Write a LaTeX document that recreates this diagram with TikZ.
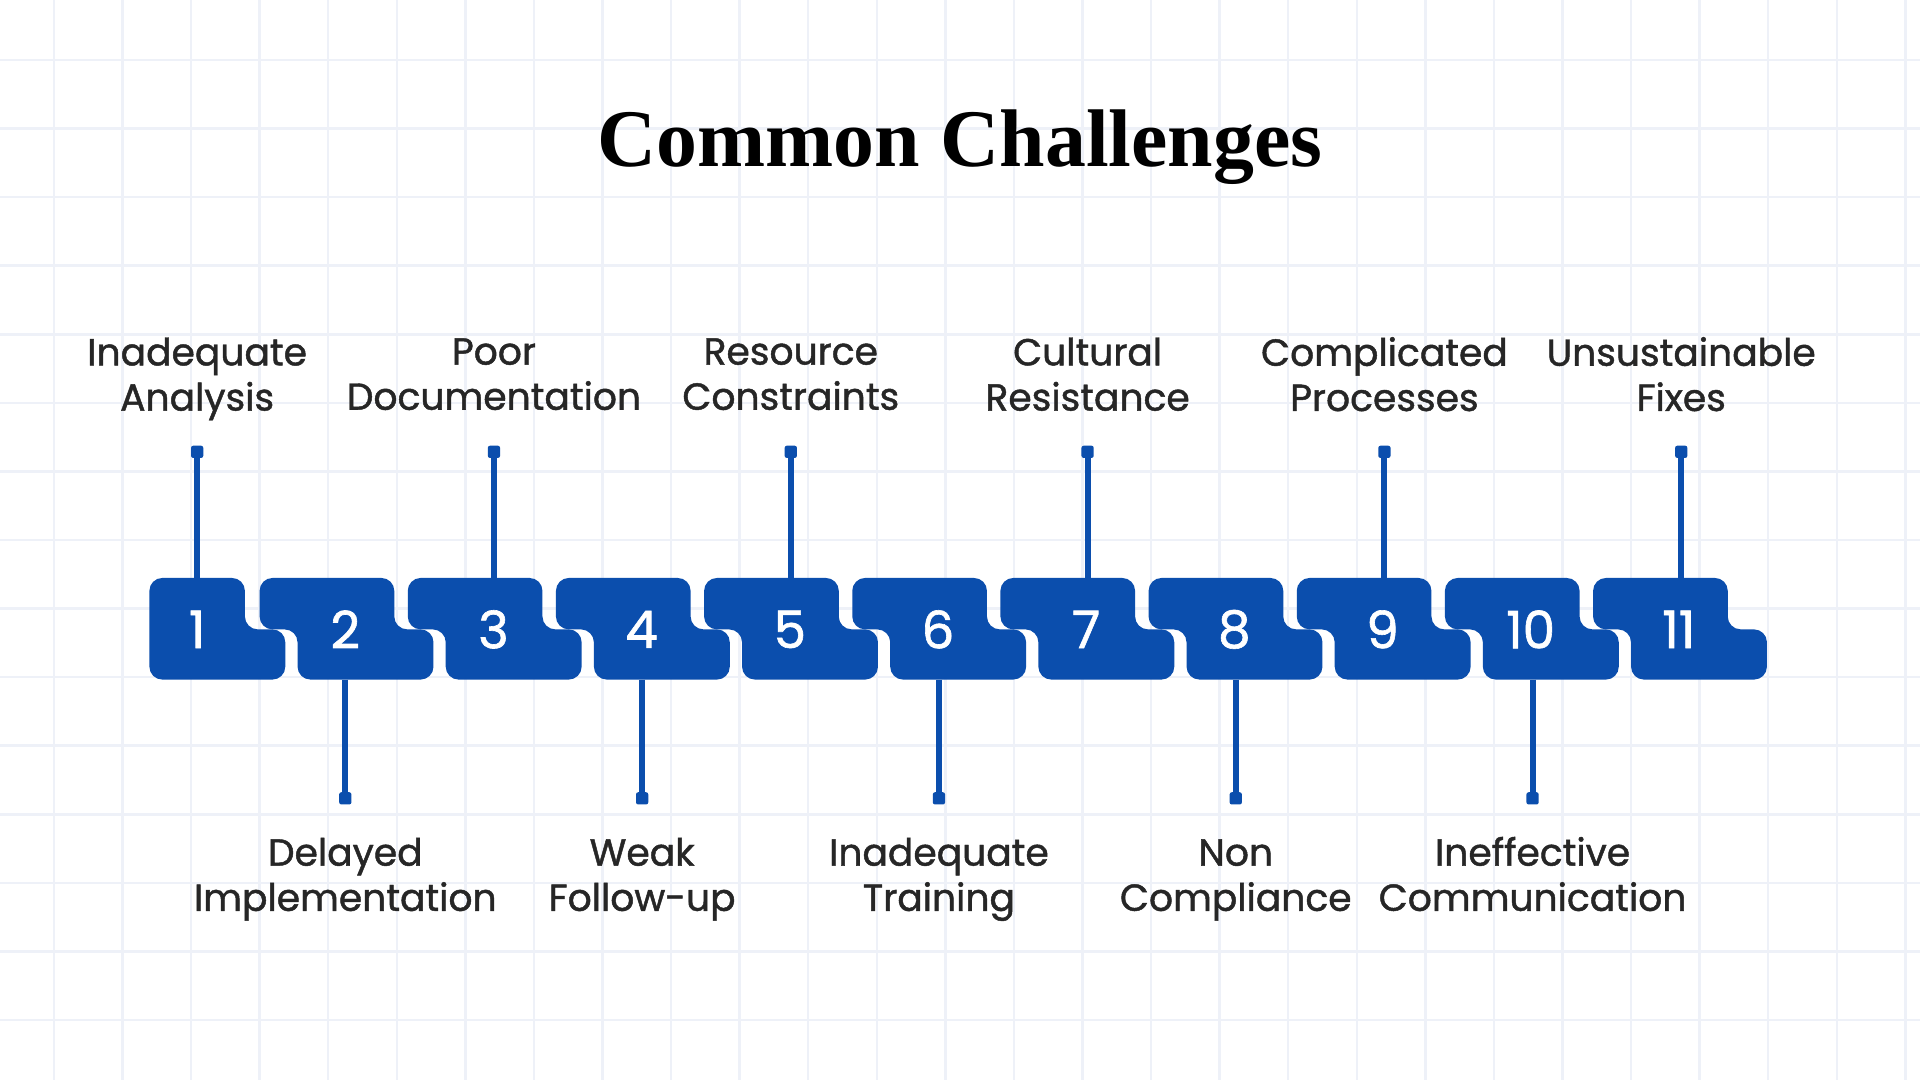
\documentclass[tikz,border=0pt]{standalone}
\usepackage{fontspec}
\setmainfont{Poppins}
\newfontfamily\titlefont{Liberation Serif}
\newfontfamily\labelfont[BoldFont=Poppins, BoldFeatures={FakeBold=1.2}]{Poppins}
\definecolor{blockblue}{HTML}{0B4EAD}
\definecolor{gridgray}{HTML}{EEF1F8}
\begin{document}
\begin{tikzpicture}[x=0.2mm,y=-0.2mm]
  \tikzset{
    block/.style={fill=blockblue, rounded corners=6},
    num/.style={text=white, font=\labelfont\bfseries\fontsize{24}{24}\selectfont},
    label/.style={align=center, font=\labelfont\bfseries\fontsize{17.5}{21}\selectfont, text=black!85, anchor=center},
    stem/.style={draw=blockblue, line width=1mm},
    marker/.style={fill=blockblue, minimum size=2mm, inner sep=0pt, rounded corners=1}
  }

  % Background and grid
  \useasboundingbox (0,0) rectangle (1568,882);
  \fill[white] (0,0) rectangle (1568,882);
  \foreach \gx in {0,...,27} \draw[gridgray, line width=0.4mm] ({44+56*\gx},0) -- ({44+56*\gx},882);
  \foreach \gy in {0,...,15} \draw[gridgray, line width=0.4mm] (0,{49+56*\gy}) -- (1568,{49+56*\gy});

  % Title
  \node (title) at (784,120) {\titlefont\fontsize{38}{38}\selectfont\bfseries Common Challenges};

  % First block
  \fill[block] (122,472) -- (200,472) -- (200,514) -- (233,514) -- (233,555) -- (122,555) -- cycle;
  \node[num] (n1) at (161,514) {1};

  % Remaining blocks
  \foreach \i in {2,...,11} {
    \pgfmathsetmacro{\lt}{212+121*(\i-2)}
    \fill[block] (\lt,472) -- (\lt+110,472) -- (\lt+110,514) -- (\lt+142,514)
      -- (\lt+142,555) -- (\lt+31,555) -- (\lt+31,514) -- (\lt,514) -- cycle;
    \node[num] (n\i) at (\lt+70,514) {\i};
  }

  % Top labels
  \foreach \i/\txt in {1/{Inadequate\\Analysis}, 3/{Poor\\Documentation},
      5/{Resource\\Constraints}, 7/{Cultural\\Resistance},
      9/{Complicated\\Processes}, 11/{Unsustainable\\Fixes}} {
    \pgfmathsetmacro{\cx}{161+121.2*(\i-1)}
    \coordinate (top\i) at (\cx,472);
    \node[marker] (m\i) at (\cx,369) {};
    \draw[stem] (m\i.center) -- (top\i);
    \node[label] (l\i) at (\cx,311) {\txt\strut};
  }

  % Bottom labels
  \foreach \i/\txt in {2/{Delayed\\Implementation}, 4/{Weak\\Follow-up},
      6/{Inadequate\\Training}, 8/{Non\\Compliance}, 10/{Ineffective\\Communication}} {
    \pgfmathsetmacro{\cx}{282+121.2*(\i-2)}
    \coordinate (bot\i) at (\cx,555);
    \node[marker] (m\i) at (\cx,652) {};
    \draw[stem] (bot\i) -- (m\i.center);
    \node[label] (l\i) at (\cx,718) {\strut\txt\strut};
  }
\end{tikzpicture}
\end{document}
